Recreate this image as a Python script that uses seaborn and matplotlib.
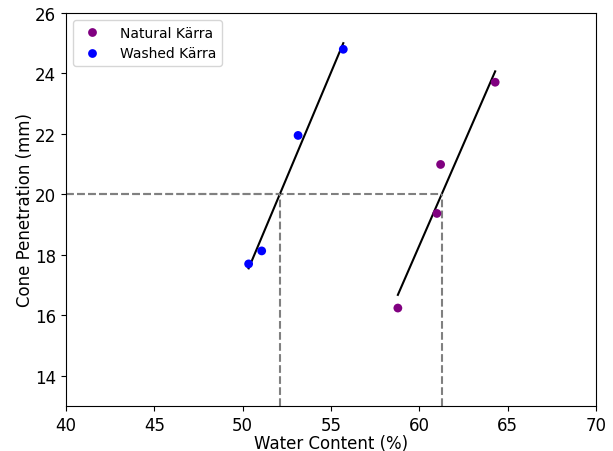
import numpy as np
import pandas as pd
import matplotlib
matplotlib.use("Agg")
import matplotlib.pyplot as plt
import seaborn as sns

natural_w = [58.79, 61.00, 61.21, 64.30]
natural_c = [16.24, 19.37, 20.99, 23.71]
washed_w = [50.34, 51.08, 53.14, 55.70]
washed_c = [17.70, 18.13, 21.95, 24.80]
labels = ["Natural Kärra", "Washed Kärra"]
colors = ["purple", "blue"]
target_c = 20

df = pd.DataFrame({
    "w": natural_w + washed_w,
    "c": natural_c + washed_c,
    "soil": [labels[0]] * len(natural_w) + [labels[1]] * len(washed_w),
})

plt.rcParams["font.size"] = 12
fig = plt.figure(figsize=(6.13, 4.52), dpi=100)
ax = fig.add_axes([0.1077, 0.0996, 0.8643, 0.8694])

sns.scatterplot(data=df, x="w", y="c", hue="soil", palette=dict(zip(labels, colors)),
                s=40, edgecolor="none", ax=ax, zorder=3)

for xs, ys in [(natural_w, natural_c), (washed_w, washed_c)]:
    sns.regplot(x=xs, y=ys, scatter=False, ci=None, truncate=True,
                color="black", line_kws={"lw": 1.5}, ax=ax)
    m, b = np.polyfit(xs, ys, 1)
    xc = (target_c - b) / m
    ax.plot([40, xc], [target_c, target_c], ls="--", color="gray", lw=1.5)
    ax.plot([xc, xc], [13, target_c], ls="--", color="gray", lw=1.5)

ax.set_xlim(40, 70)
ax.set_ylim(13, 26)
ax.set_xticks(np.arange(40, 71, 5))
ax.set_yticks(np.arange(14, 27, 2))
ax.set_xlabel("Water Content (%)", labelpad=0)
ax.set_ylabel("Cone Penetration (mm)", labelpad=1)
ax.legend(loc="upper left", title=None, fontsize=10, handletextpad=1.0)
fig.savefig("out.png", dpi=100)
